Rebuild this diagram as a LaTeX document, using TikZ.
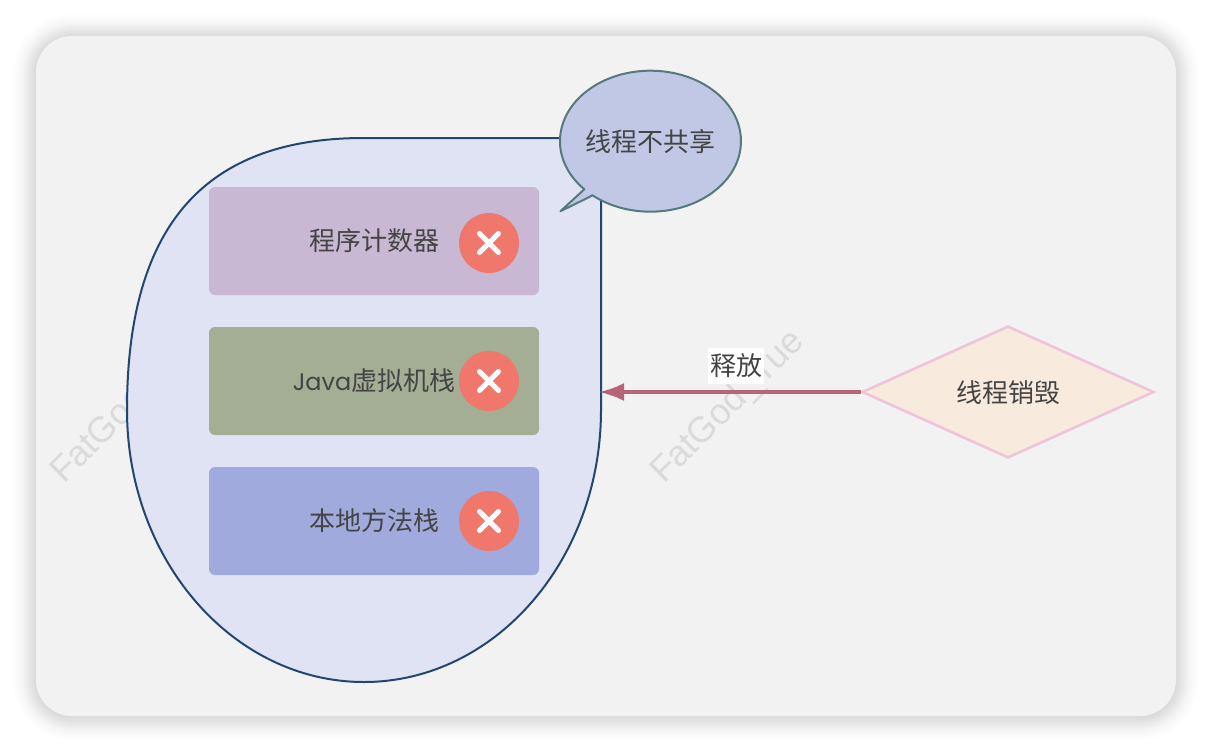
\documentclass[tikz,border=0pt]{standalone}
\usepackage{fontspec}
\usetikzlibrary{shapes.geometric,arrows.meta}
\setmainfont{Liberation Sans}
\newfontfamily\cjk{Noto Sans CJK SC}
\newfontfamily\latinround{Poppins}[Scale=0.92]
\newcommand\lowertext[1]{\raisebox{-1pt}{#1}}
\definecolor{panelbg}{HTML}{F2F2F2}
\definecolor{blobfill}{HTML}{E0E3F3}
\definecolor{blobline}{HTML}{23466F}
\definecolor{boxa}{HTML}{C8B8D3}
\definecolor{boxb}{HTML}{A3AE94}
\definecolor{boxc}{HTML}{A0AADD}
\definecolor{badge}{HTML}{F0776C}
\definecolor{bubblefill}{HTML}{C0C8E6}
\definecolor{bubbleline}{HTML}{55797C}
\definecolor{decfill}{HTML}{F8EADC}
\definecolor{decline}{HTML}{EFC3DC}
\definecolor{arrowc}{HTML}{B56576}
\definecolor{inkc}{HTML}{444444}
\definecolor{markc}{HTML}{DADADA}
\tikzset{
  areabox/.style={draw=none,rounded corners=6pt,minimum width=330pt,minimum height=108pt,inner sep=0pt,
    text=inkc,font=\cjk\fontsize{26pt}{30pt}\selectfont},
  badgenode/.style={circle,fill=badge,minimum size=60pt,inner sep=0pt},
  crossline/.style={draw=white,line width=5pt,line cap=round},
  watermark/.style={rotate=45,anchor=base west,text=markc,inner sep=0pt,font=\fontsize{36pt}{38pt}\selectfont},
  labeltext/.style={text=inkc,font=\cjk\fontsize{26pt}{30pt}\selectfont,inner sep=0pt},
}
\begin{document}
\begin{tikzpicture}[x=1pt,y=1pt,yscale=-1]
\useasboundingbox (0,0) rectangle (1212,752);
\fill[white] (0,0) rectangle (1212,752);
% shadow
\foreach \i in {40,39,...,1}{
  \pgfmathsetmacro{\op}{0.0095*exp(-(\i/19)*(\i/19))}
  \fill[black,opacity=\op,rounded corners={(36+\i)*1pt}] (36-\i,37-\i) rectangle (1176+\i,717+\i);
}
\fill[panelbg,rounded corners=36pt] (36,36) rectangle (1176,716);
% watermarks
\node[watermark] (mark1) at (64,485) {FatGod\_Tue};
\node[watermark] (mark2) at (664,485) {FatGod\_Tue};
% blob
\draw[fill=blobfill,draw=blobline,line width=2pt] (127,410) .. controls (127,225) and (205,138) .. (364,138) -- (601,138) -- (601,410) arc[start angle=0,end angle=180,x radius=237pt,y radius=272pt] -- cycle;
\coordinate (blobE) at (601,392);
% boxes
\node[areabox,fill=boxa] (pc) at (374,241) {\lowertext{程序计数器}};
\node[areabox,fill=boxb] (jvm) at (374,381) {\lowertext{{\latinround Java}虚拟机栈}};
\node[areabox,fill=boxc] (native) at (374,521) {\lowertext{本地方法栈}};
\foreach \n/\y in {b1/243,b2/381,b3/521}{
  \node[badgenode] (\n) at (489,\y) {};
  \draw[crossline] ([shift={(-9.5,-9.5)}]\n.center) -- ([shift={(9.5,9.5)}]\n.center);
  \draw[crossline] ([shift={(-9.5,9.5)}]\n.center) -- ([shift={(9.5,-9.5)}]\n.center);
}
% bubble
\draw[fill=bubblefill,draw=bubbleline,line width=2pt,line join=round]
  (592.3,195.2) arc[start angle=130,end angle=-223,x radius=90.5pt,y radius=70.5pt]
  -- (581.7,191.7) -- (560.5,211.2) -- (590,196.7) -- cycle;
\node[labeltext] (bubbletext) at (650,142) {线程不共享};
% decision
\node[diamond,aspect=2.2,draw=decline,fill=decfill,line width=2.6pt,minimum width=292pt,minimum height=132pt,inner sep=0pt] (end) at (1008,392) {};
\node[labeltext] (endtext) at (1008,393) {线程销毁};
% connector
\draw[arrowc,line width=3.4pt,shorten >=-2pt,-{Latex[length=25pt,width=18pt,sharp]}] (end.west) -- (blobE);
\node[labeltext,fill=white,minimum width=56pt,minimum height=36pt] (release) at (736,366) {\lowertext{释放}};
\end{tikzpicture}
\end{document}
